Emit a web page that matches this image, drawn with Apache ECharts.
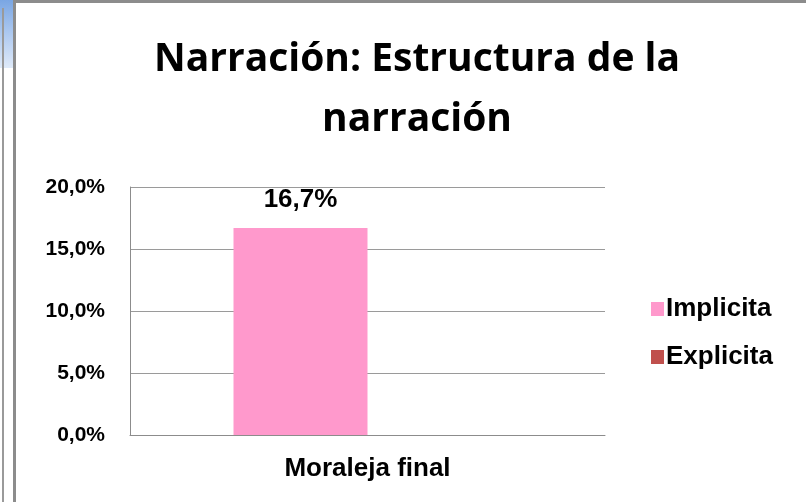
<!DOCTYPE html>
<html><head><meta charset="utf-8">
<script src="https://cdn.jsdelivr.net/npm/echarts@6/dist/echarts.min.js"></script>
<style>
html,body{margin:0;padding:0;background:#fff;}
#wrap{position:relative;width:806px;height:502px;overflow:hidden;}
#strip{position:absolute;left:0;top:0;width:13px;height:502px;background:#fff;}
#stripTop{position:absolute;left:0;top:0;width:13px;height:68px;background:linear-gradient(#7aa6e3,#a9c6ef 45%,#dfeaf9);}
#stripLine{position:absolute;left:2px;top:8px;width:2px;height:494px;background:#9a9a9a;}
#frame{position:absolute;left:13px;top:0;width:793px;height:502px;border-left:3px solid #8c8c8c;border-top:3px solid #8c8c8c;box-sizing:border-box;}
#chart{position:absolute;left:16px;top:3px;width:790px;height:499px;}
</style></head>
<body><div id="wrap"><div id="strip"></div><div id="stripTop"></div><div id="stripLine"></div><div id="frame"></div><div id="chart"></div></div>
<script>
var titleText = 'Narración: Estructura de la\nnarración';
var categories = ['Moraleja final'];
var seriesNames = ['Implicita', 'Explicita'];
var implicitaValues = [16.7];
var explicitaValues = [0];
var yTicks = [0, 5, 10, 15, 20];

var chart = echarts.init(document.getElementById('chart'));
function pct(v){ return v.toFixed(1).replace('.', ',') + '%'; }
chart.setOption({
  animation: false,
  title: {
    text: titleText, left: 396, top: 22, textAlign: 'center',
    textStyle: {fontFamily: 'Open Sans', fontWeight: 'bold', fontSize: 39, lineHeight: 60, color: '#000'}
  },
  legend: {
    orient: 'vertical', left: 630, top: 288, itemGap: 22,
    itemWidth: 13, itemHeight: 14, icon: 'rect',
    textStyle: {fontFamily: 'Liberation Sans', fontWeight: 'bold', fontSize: 26, color: '#000', padding: [0,0,0,-3]},
    data: seriesNames
  },
  grid: {left: 114, right: 201, top: 184, bottom: 67},
  xAxis: {
    type: 'category', data: categories,
    axisLine: {lineStyle: {color: '#8c8c8c', width: 1}},
    axisTick: {show: false},
    axisLabel: {fontFamily: 'Liberation Sans', fontWeight: 'bold', fontSize: 26, color: '#000', margin: 21}
  },
  yAxis: {
    type: 'value', min: 0, max: 20, interval: 5,
    axisLine: {show: true, lineStyle: {color: '#8c8c8c'}},
    axisTick: {show: false},
    splitLine: {lineStyle: {color: '#9a9a9a', width: 1}},
    axisLabel: {fontFamily: 'Liberation Sans', fontWeight: 'bold', fontSize: 21, color: '#000', margin: 25,
      formatter: function(v){ return pct(v); }}
  },
  series: [
    {name: seriesNames[0], type: 'bar', data: implicitaValues, barWidth: 134, barGap: '0%',
     itemStyle: {color: '#FF99CC'},
     label: {show: true, position: 'top', distance: 15, fontFamily: 'Liberation Sans', fontWeight: 'bold', fontSize: 26, color: '#000',
       formatter: function(p){ return pct(p.value); }}},
    {name: seriesNames[1], type: 'bar', data: explicitaValues, barWidth: 134,
     itemStyle: {color: '#C0504D'}}
  ]
});
</script></body></html>
